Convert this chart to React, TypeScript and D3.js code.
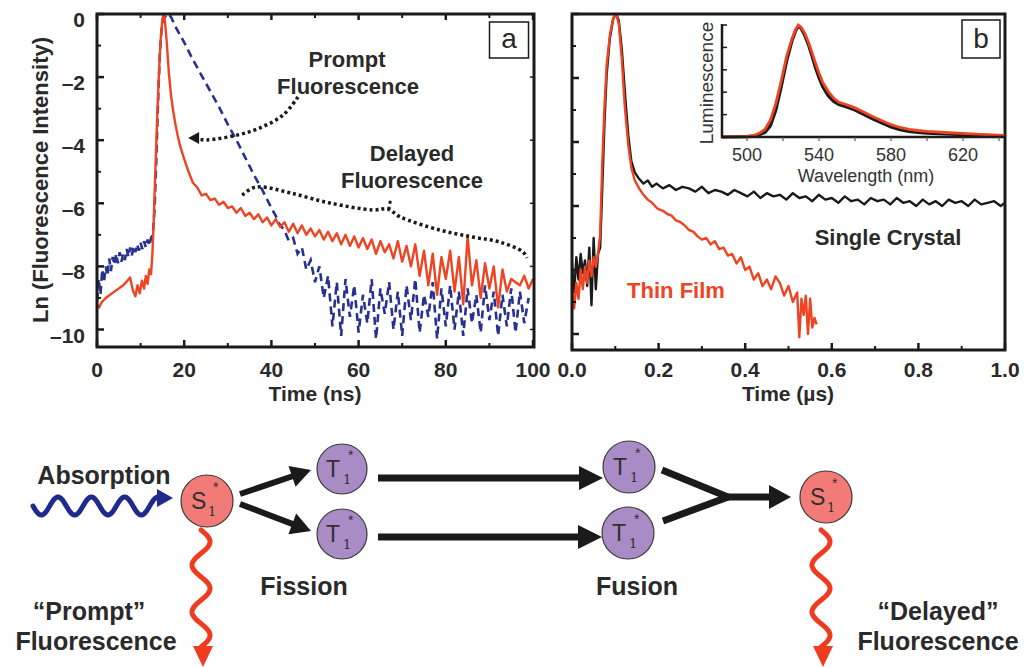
import React from "react";
import * as d3 from "d3";

const FONT = "'Liberation Sans', Arial, Helvetica, sans-serif";
const INK = "#1a1a1a";
const TXT = "#2a2a2a";
const RED = "#ee4422";
const BLUE = "#283190";

// ---------- Panel a : fluorescence decay (ns) ----------
const thinFilmNs: [number, number][] = [
  [0, -9.2], [0.5, -9.3], [1, -9.15], [2, -9.0], [3, -8.9], [4, -8.8], [5, -8.7], [6, -8.6], [7, -8.45],
  [7.6, -8.35], [8.2, -8.75], [8.8, -8.95], [9.3, -8.6], [9.8, -8.85], [10.3, -8.45], [10.8, -8.7],
  [11.2, -8.3], [11.6, -8.55], [12.0, -8.1], [12.4, -8.25], [12.7, -7.6], [13.0, -6.6], [13.4, -4.9],
  [13.8, -3.3], [14.2, -1.9], [14.6, -0.8], [15.0, -0.15], [15.3, 0], [15.6, -0.25], [16.0, -0.9],
  [16.5, -1.9], [17, -2.6], [17.5, -3.1], [18, -3.5], [18.5, -3.85], [19, -4.15], [20, -4.6], [21, -5.0],
  [22, -5.35], [23, -5.5], [24, -5.75], [25, -5.7], [26, -5.9], [27, -5.85], [28, -6.05], [29, -5.95],
  [30, -6.15], [31, -6.1], [32, -6.3], [33, -6.15], [34, -6.4], [35, -6.3], [36, -6.5], [37, -6.35],
  [38, -6.6], [39, -6.45], [40, -6.7], [41, -6.5], [42, -6.75], [43, -6.6], [44, -6.9], [45, -6.65],
  [46, -6.95], [47, -6.7], [48, -7.0], [49, -6.8], [50, -7.05], [51, -6.85], [52, -7.15], [53, -6.9],
  [54, -7.2], [55, -6.95], [56, -7.3], [57, -7.0], [58, -7.35], [59, -7.05], [60, -7.4], [61, -7.1],
  [62, -7.45], [63, -7.15], [64, -7.6], [65, -7.2], [66, -7.55], [67, -7.3], [68, -7.75], [69, -7.2],
  [70, -7.85], [71, -7.35], [72, -8.0], [73, -7.3], [74, -8.3], [75, -7.5], [76, -8.6], [77, -7.6],
  [78, -8.9], [79, -7.7], [80, -8.4], [81, -7.5], [82, -8.8], [83, -7.7], [84, -9.2], [85, -7.05],
  [86, -8.6], [87, -7.8], [88, -9.0], [89, -7.9], [90, -8.7], [91, -8.0], [92, -9.3], [93, -8.1],
  [94, -8.8], [95, -8.4], [96, -8.5], [97, -8.6], [98, -8.3], [99, -8.7], [100, -8.4],
];

const promptNs: [number, number][] = [
  [0, -9.1], [0.4, -8.4], [0.8, -8.9], [1.2, -8.1], [1.6, -8.5], [2, -8.0], [2.4, -8.3], [2.8, -7.75],
  [3.2, -8.15], [3.6, -7.7], [4, -7.95], [4.4, -7.6], [4.8, -7.9], [5.2, -7.55], [5.6, -7.85], [6, -7.6],
  [6.4, -7.8], [6.8, -7.45], [7.2, -7.7], [7.6, -7.4], [8, -7.65], [8.4, -7.35], [8.8, -7.55], [9.2, -7.3],
  [9.6, -7.5], [10, -7.25], [10.4, -7.45], [10.8, -7.2], [11.2, -7.4], [11.6, -7.15], [12, -7.35],
  [12.4, -7.1], [12.8, -7.0], [13.2, -6.2], [13.6, -4.6], [14, -2.8], [14.4, -1.3], [14.8, -0.5],
  [15.3, -0.15], [16, -0.02], [16.5, 0], [17, -0.1], [18, -0.4], [20, -0.9], [22, -1.45], [24, -1.95],
  [26, -2.45], [28, -2.95], [30, -3.5], [32, -4.0], [34, -4.55], [36, -5.1], [38, -5.6], [40, -6.15],
  [41, -6.4], [42, -6.7], [43, -6.85], [44, -7.2], [45, -7.1], [46, -7.6], [47, -7.4], [48, -8.1],
  [49, -7.8], [50, -8.5], [51, -8.0], [52, -9.0], [53, -8.3], [54, -9.9], [55, -8.5], [56, -10.2],
  [57, -8.4], [58, -9.6], [59, -8.6], [60, -10.1], [61, -8.9], [62, -9.8], [63, -8.4], [64, -10.3],
  [65, -8.7], [66, -9.5], [67, -8.5], [68, -10.0], [69, -8.8], [70, -10.2], [71, -8.6], [72, -9.7],
  [73, -8.4], [74, -10.1], [75, -8.9], [76, -9.6], [77, -8.5], [78, -10.3], [79, -8.7], [80, -9.9],
  [81, -8.6], [82, -10.0], [83, -8.8], [84, -10.2], [85, -8.7], [86, -9.8], [87, -8.9], [88, -10.1],
  [89, -8.6], [90, -9.7], [91, -8.8], [92, -10.2], [93, -8.9], [94, -9.9], [95, -8.7], [96, -10.1],
  [97, -8.8], [98, -9.8], [99, -9.0],
];

// annotation arrows (data coords of panel a)
const promptArrow: [number, number][] = [
  [46.1, -2.63], [42.7, -3.2], [37.4, -3.61], [32.1, -3.84], [25.2, -3.99], [23.0, -3.97],
];
const promptArrowTip: [number, number] = [20.9, -3.93];
const delayedArrow: [number, number][] = [
  [33.3, -5.74], [35.6, -5.52], [37.8, -5.48], [44.3, -5.67], [53.4, -5.99], [63.3, -6.21], [66.7, -6.18],
  [69.5, -6.43], [78.7, -6.85], [86.2, -7.07], [92.4, -7.23], [97.7, -7.54], [98.6, -7.73],
];
const delayedKink: [number, number][] = [[66.9, -6.2], [67.3, -5.9]];

// ---------- Panel b : decay (µs) ----------
const singleCrystalUs: [number, number][] = [
  [0, -7.8], [0.005, -8.7], [0.01, -7.6], [0.015, -8.3], [0.02, -7.5], [0.025, -8.1], [0.03, -7.7],
  [0.035, -8.5], [0.04, -7.3], [0.045, -9.1], [0.05, -7.0], [0.055, -8.6], [0.06, -7.5], [0.065, -7.3],
  [0.07, -5.4], [0.075, -3.4], [0.08, -1.9], [0.087, -0.8], [0.095, -0.15], [0.102, 0], [0.108, -0.2],
  [0.115, -1.1], [0.123, -2.6], [0.13, -3.8], [0.137, -4.6], [0.145, -4.95], [0.155, -5.15], [0.165, -5.3],
  [0.175, -5.2], [0.185, -5.4], [0.195, -5.3], [0.21, -5.45], [0.225, -5.35], [0.24, -5.5], [0.255, -5.4],
  [0.27, -5.45], [0.285, -5.55], [0.3, -5.4], [0.315, -5.6], [0.33, -5.5], [0.345, -5.55], [0.36, -5.65],
  [0.375, -5.5], [0.39, -5.6], [0.405, -5.7], [0.42, -5.55], [0.435, -5.75], [0.45, -5.6], [0.465, -5.7],
  [0.48, -5.65], [0.495, -5.8], [0.51, -5.6], [0.525, -5.75], [0.54, -5.7], [0.555, -5.85], [0.57, -5.65],
  [0.585, -5.8], [0.6, -5.75], [0.615, -5.9], [0.63, -5.7], [0.645, -5.85], [0.66, -5.8], [0.675, -5.95],
  [0.69, -5.75], [0.705, -5.85], [0.72, -5.8], [0.735, -5.95], [0.75, -5.75], [0.765, -5.9], [0.78, -5.85],
  [0.795, -6.0], [0.81, -5.8], [0.825, -5.95], [0.84, -5.85], [0.855, -6.0], [0.87, -5.8], [0.885, -5.9],
  [0.9, -5.85], [0.915, -6.0], [0.93, -5.8], [0.945, -5.95], [0.96, -5.9], [0.975, -5.85], [0.99, -6.0],
  [1.0, -5.9],
];

const thinFilmUs: [number, number][] = [
  [0, -8.6], [0.005, -9.2], [0.01, -8.4], [0.015, -8.9], [0.02, -8.0], [0.025, -8.6], [0.03, -7.9],
  [0.035, -8.4], [0.04, -7.7], [0.045, -8.2], [0.05, -7.6], [0.055, -7.9], [0.06, -7.5], [0.065, -6.9],
  [0.07, -4.6], [0.075, -2.9], [0.08, -1.6], [0.088, -0.6], [0.096, -0.1], [0.102, 0], [0.108, -0.3],
  [0.115, -1.4], [0.122, -2.9], [0.13, -4.1], [0.137, -4.8], [0.145, -5.2], [0.155, -5.45], [0.165, -5.65],
  [0.175, -5.8], [0.185, -5.9], [0.195, -6.05], [0.2, -6.1], [0.21, -6.15], [0.22, -6.25], [0.23, -6.3],
  [0.24, -6.45], [0.25, -6.5], [0.26, -6.6], [0.27, -6.75], [0.28, -6.8], [0.29, -6.95], [0.3, -7.05],
  [0.31, -7.0], [0.32, -7.2], [0.33, -7.1], [0.34, -7.35], [0.35, -7.3], [0.36, -7.55], [0.37, -7.5],
  [0.38, -7.8], [0.39, -7.6], [0.4, -8.0], [0.41, -7.9], [0.42, -8.3], [0.43, -8.1], [0.44, -8.5],
  [0.45, -8.3], [0.46, -8.6], [0.47, -8.2], [0.48, -8.4], [0.49, -8.8], [0.5, -8.5], [0.51, -9.0],
  [0.52, -8.7], [0.525, -10.1], [0.53, -8.9], [0.535, -9.4], [0.54, -8.8], [0.545, -10.0], [0.55, -8.9],
  [0.555, -9.8], [0.56, -9.5], [0.565, -9.7],
];

// ---------- Inset : luminescence spectra ----------
const spectrumFilm: [number, number][] = [
  [486, 0], [495, 0.002], [500, 0.006], [504, 0.015], [507, 0.035], [510, 0.07], [513, 0.15], [516, 0.3],
  [519, 0.5], [522, 0.72], [525, 0.88], [527, 0.96], [528.5, 1.0], [530, 0.98], [532, 0.93], [534, 0.85],
  [536, 0.76], [538, 0.66], [540, 0.57], [542, 0.49], [545, 0.41], [548, 0.35], [551, 0.31], [555, 0.29],
  [560, 0.26], [565, 0.22], [570, 0.18], [575, 0.145], [580, 0.11], [585, 0.085], [590, 0.068],
  [595, 0.058], [600, 0.05], [610, 0.04], [620, 0.032], [630, 0.024], [643, 0.015],
];
const spectrumCrystal: [number, number][] = [
  [486, 0], [500, 0.003], [505, 0.01], [510, 0.04], [513, 0.1], [516, 0.24], [519, 0.45], [522, 0.68],
  [525, 0.86], [527, 0.95], [528.5, 0.99], [530, 0.97], [532, 0.91], [534, 0.83], [536, 0.73], [538, 0.62],
  [540, 0.53], [542, 0.45], [545, 0.37], [548, 0.32], [551, 0.29], [555, 0.27], [560, 0.24], [565, 0.2],
  [570, 0.16], [575, 0.125], [580, 0.09], [585, 0.065], [590, 0.05], [595, 0.04], [600, 0.035],
  [610, 0.028], [620, 0.02], [630, 0.015], [643, 0.01],
];

const yTicksMajor = [0, -2, -4, -6, -8, -10];
const yTicksMinor = [-1, -3, -5, -7, -9];
const xTicksA = [0, 20, 40, 60, 80, 100];
const xTicksAMinor = [10, 30, 50, 70, 90];
const xTicksB = [0, 0.2, 0.4, 0.6, 0.8, 1.0];
const xTicksBMinor = [0.1, 0.3, 0.5, 0.7, 0.9];
const insetXLabels = [500, 540, 580, 620];
const insetXTicks = [500, 520, 540, 560, 580, 600, 620, 640];
const insetYTicks = [0, 0.2, 0.4, 0.6, 0.8, 1.0];

const fmtY = (v: number) => (v === 0 ? "0" : "\u2013" + Math.abs(v));

// geometry helpers for the scheme
function wavePath(x0: number, y0: number, x1: number, y1: number, amp: number, periods: number) {
  const dx = x1 - x0, dy = y1 - y0, L = Math.hypot(dx, dy);
  const ux = dx / L, uy = dy / L, px = -uy, py = ux;
  const pts: [number, number][] = d3.range(0, 201).map((i) => {
    const t = i / 200;
    const o = amp * Math.sin(2 * Math.PI * periods * t);
    return [x0 + dx * t + px * o, y0 + dy * t + py * o];
  });
  return d3.line()(pts) as string;
}

function Arrow({ x1, y1, x2, y2, w = 6, hl = 20, hw = 22 }: any) {
  const dx = x2 - x1, dy = y2 - y1, L = Math.hypot(dx, dy);
  const ux = dx / L, uy = dy / L, px = -uy, py = ux;
  const bx = x2 - ux * hl, by = y2 - uy * hl;
  return (
    <g>
      <line x1={x1} y1={y1} x2={bx + ux * 2} y2={by + uy * 2} stroke={INK} strokeWidth={w} />
      <polygon
        points={`${x2},${y2} ${bx + (px * hw) / 2},${by + (py * hw) / 2} ${bx - (px * hw) / 2},${by - (py * hw) / 2}`}
        fill={INK}
      />
    </g>
  );
}

function State({ cx, cy, r, letter, fill }: any) {
  return (
    <g>
      <circle cx={cx} cy={cy} r={r} fill={fill} stroke="#3a3a3a" strokeWidth={1.2} />
      <text x={cx - 16} y={cy + 8} fontSize={23} fill="#303030" fontFamily={FONT}>{letter}</text>
      <text x={cx + 1} y={cy + 15} fontSize={13} fill="#303030" fontFamily="'DejaVu Serif', serif">1</text>
      <text x={cx + 6} y={cy - 9} fontSize={14} fill="#303030" fontFamily={FONT}>*</text>
    </g>
  );
}

export default function App() {
  // panel a scales
  const xA = d3.scaleLinear().domain([0, 100]).range([97, 533]);
  const yA = d3.scaleLinear().domain([0, -10]).range([14, 329.5]);
  const lineA = d3.line<[number, number]>().x((d) => xA(d[0])).y((d) => yA(d[1]));
  const curveA = d3.line<[number, number]>().x((d) => xA(d[0])).y((d) => yA(d[1])).curve(d3.curveCatmullRom);

  // panel b scales
  const xB = d3.scaleLinear().domain([0, 1]).range([572, 1005]);
  const yB = d3.scaleLinear().domain([0, -10]).range([14, 334]);
  const lineB = d3.line<[number, number]>().x((d) => xB(d[0])).y((d) => yB(d[1]));

  // inset scales
  const xI = d3.scaleLinear().domain([486.1, 643.3]).range([722, 1005]);
  const yI = d3.scaleLinear().domain([0, 1]).range([137, 25]);
  const lineI = d3.line<[number, number]>().x((d) => xI(d[0])).y((d) => yI(d[1]));

  const tipX = xA(promptArrowTip[0]), tipY = yA(promptArrowTip[1]);

  return (
    <svg width={1024} height={667} style={{ position: "absolute", left: 0, top: 0, background: "#fff" }}>
      <defs>
        <clipPath id="clipA"><rect x={98} y={15} width={435} height={331} /></clipPath>
        <clipPath id="clipB"><rect x={573} y={15} width={431} height={334} /></clipPath>
      </defs>
      <rect x={0} y={0} width={1024} height={667} fill="#fff" />

      {/* ================= PANEL A ================= */}
      <g clipPath="url(#clipA)">
        <path d={lineA(promptNs) as string} fill="none" stroke={BLUE} strokeWidth={2.6} strokeDasharray="8 5" />
        <path d={lineA(thinFilmNs) as string} fill="none" stroke={RED} strokeWidth={2.4} strokeLinejoin="round" />
      </g>
      <rect x={97} y={14} width={437} height={333} fill="none" stroke={INK} strokeWidth={3} />
      {xTicksA.map((v) => (
        <g key={"xa" + v}>
          <line x1={xA(v)} x2={xA(v)} y1={347} y2={340} stroke={INK} strokeWidth={2.5} />
          <line x1={xA(v)} x2={xA(v)} y1={14} y2={20} stroke={INK} strokeWidth={2.5} />
          <text x={xA(v)} y={377} textAnchor="middle" fontSize={21} fontWeight="bold" fill={TXT} fontFamily={FONT}>{v}</text>
        </g>
      ))}
      {xTicksAMinor.map((v) => (
        <g key={"xam" + v}>
          <line x1={xA(v)} x2={xA(v)} y1={347} y2={343} stroke={INK} strokeWidth={2} />
          <line x1={xA(v)} x2={xA(v)} y1={14} y2={18} stroke={INK} strokeWidth={2} />
        </g>
      ))}
      {yTicksMajor.map((v) => (
        <g key={"ya" + v}>
          <line x1={97} x2={104} y1={yA(v)} y2={yA(v)} stroke={INK} strokeWidth={2.5} />
          <line x1={534} x2={530} y1={yA(v)} y2={yA(v)} stroke={INK} strokeWidth={1.5} />
          <text x={85} y={yA(v) + 13} textAnchor="end" fontSize={21} fontWeight="bold" fill={TXT} fontFamily={FONT}>{fmtY(v)}</text>
        </g>
      ))}
      {yTicksMinor.map((v) => (
        <line key={"yam" + v} x1={97} x2={101} y1={yA(v)} y2={yA(v)} stroke={INK} strokeWidth={2} />
      ))}
      <text x={315} y={401} textAnchor="middle" fontSize={21} fontWeight="bold" fill={TXT} fontFamily={FONT}>Time (ns)</text>
      <text transform="translate(48,180) rotate(-90)" textAnchor="middle" fontSize={22} fontWeight="bold" fill={TXT} fontFamily={FONT}>
        Ln (Fluorescence Intensity)
      </text>
      <rect x={489.5} y={22} width={39} height={36} fill="#fff" stroke={INK} strokeWidth={1.5} />
      <text x={509} y={48} textAnchor="middle" fontSize={28} fill={TXT} fontFamily={FONT}>a</text>

      {/* annotations */}
      <text x={347} y={67} textAnchor="middle" fontSize={22} fontWeight="bold" fill={TXT} fontFamily={FONT}>Prompt</text>
      <text x={348} y={94} textAnchor="middle" fontSize={22} fontWeight="bold" fill={TXT} fontFamily={FONT}>Fluorescence</text>
      <text x={412} y={161} textAnchor="middle" fontSize={22} fontWeight="bold" fill={TXT} fontFamily={FONT}>Delayed</text>
      <text x={412} y={188} textAnchor="middle" fontSize={22} fontWeight="bold" fill={TXT} fontFamily={FONT}>Fluorescence</text>
      <path d={curveA(promptArrow) as string} fill="none" stroke={INK} strokeWidth={3.5} strokeDasharray="3 3" />
      <polygon points={`${tipX},${tipY} ${tipX + 11},${tipY - 6} ${tipX + 11},${tipY + 6}`} fill={INK} />
      <path d={curveA(delayedArrow) as string} fill="none" stroke={INK} strokeWidth={3.5} strokeDasharray="3 3" />
      <path d={lineA(delayedKink) as string} fill="none" stroke={INK} strokeWidth={3} strokeDasharray="3 3" />

      {/* ================= PANEL B ================= */}
      <g clipPath="url(#clipB)">
        <path d={lineB(singleCrystalUs) as string} fill="none" stroke={INK} strokeWidth={2.4} strokeLinejoin="round" />
        <path d={lineB(thinFilmUs) as string} fill="none" stroke={RED} strokeWidth={2.4} strokeLinejoin="round" />
      </g>
      <rect x={572} y={14} width={433} height={336} fill="none" stroke={INK} strokeWidth={3} />
      {xTicksB.map((v) => (
        <g key={"xb" + v}>
          <line x1={xB(v)} x2={xB(v)} y1={350} y2={343} stroke={INK} strokeWidth={2.5} />
          <text x={xB(v)} y={377} textAnchor="middle" fontSize={21} fontWeight="bold" fill={TXT} fontFamily={FONT}>
            {d3.format(".1f")(v)}
          </text>
        </g>
      ))}
      {xTicksBMinor.map((v) => (
        <line key={"xbm" + v} x1={xB(v)} x2={xB(v)} y1={350} y2={346} stroke={INK} strokeWidth={2} />
      ))}
      {yTicksMajor.map((v) => (
        <line key={"yb" + v} x1={572} x2={579} y1={yB(v)} y2={yB(v)} stroke={INK} strokeWidth={2.5} />
      ))}
      {yTicksMinor.map((v) => (
        <line key={"ybm" + v} x1={572} x2={576} y1={yB(v)} y2={yB(v)} stroke={INK} strokeWidth={2} />
      ))}
      <text x={788} y={401} textAnchor="middle" fontSize={21} fontWeight="bold" fill={TXT} fontFamily={FONT}>Time (µs)</text>
      <text x={888} y={245} textAnchor="middle" fontSize={22} fontWeight="bold" fill={TXT} fontFamily={FONT}>Single Crystal</text>
      <text x={676} y={298} textAnchor="middle" fontSize={22} fontWeight="bold" fill={RED} fontFamily={FONT}>Thin Film</text>
      <rect x={962} y={20} width={38} height={38} fill="#fff" stroke={INK} strokeWidth={1.5} />
      <text x={981} y={48} textAnchor="middle" fontSize={28} fill={TXT} fontFamily={FONT}>b</text>

      {/* inset */}
      <path d={lineI(spectrumCrystal) as string} fill="none" stroke={INK} strokeWidth={3.2} />
      <path d={lineI(spectrumFilm) as string} fill="none" stroke={RED} strokeWidth={2.8} />
      <line x1={722} x2={722} y1={24} y2={138} stroke={INK} strokeWidth={2.5} />
      <line x1={721} x2={1005} y1={137} y2={137} stroke={INK} strokeWidth={2.5} />
      {insetYTicks.map((v) => (
        <line key={"iy" + v} x1={722} x2={727} y1={yI(v)} y2={yI(v)} stroke={INK} strokeWidth={1.5} />
      ))}
      {insetXTicks.map((v) => (
        <line key={"ix" + v} x1={xI(v)} x2={xI(v)} y1={137} y2={141} stroke="#555" strokeWidth={1.2} />
      ))}
      {insetXLabels.map((v) => (
        <text key={"ixl" + v} x={xI(v)} y={161} textAnchor="middle" fontSize={18} fill="#333" fontFamily={FONT}>{v}</text>
      ))}
      <text x={866} y={182} textAnchor="middle" fontSize={18} fill="#333" fontFamily={FONT}>Wavelength (nm)</text>
      <text transform="translate(713,83) rotate(-90)" textAnchor="middle" fontSize={19} fill="#333" fontFamily={FONT}>Luminescence</text>

      {/* ================= SCHEME ================= */}
      <text x={104} y={484} textAnchor="middle" fontSize={25} fontWeight="bold" fill={TXT} fontFamily={FONT}>Absorption</text>
      <path d={wavePath(33, 506, 158, 506, 9, 3.75)} fill="none" stroke="#1f2a8c" strokeWidth={5} strokeLinecap="round" />
      <polygon points="173,498 157,489 157,507" fill="#1f2a8c" />

      <path d={wavePath(201, 530, 201, 647, -9, 2.5)} fill="none" stroke="#ef3b1f" strokeWidth={5} strokeLinecap="round" />
      <polygon points="203,667 193,646 213,646" fill="#ef3b1f" />
      <path d={wavePath(821, 530, 821, 647, -9, 2.5)} fill="none" stroke="#ef3b1f" strokeWidth={5} strokeLinecap="round" />
      <polygon points="823,667 813,646 833,646" fill="#ef3b1f" />

      <Arrow x1={240} y1={494} x2={311} y2={470} />
      <Arrow x1={240} y1={504} x2={311} y2={531} />
      <Arrow x1={378} y1={478} x2={603} y2={478} w={7} hl={24} hw={24} />
      <Arrow x1={378} y1={537} x2={602} y2={537} w={7} hl={24} hw={24} />
      <polyline points="662,470 728,497 663,521" fill="none" stroke={INK} strokeWidth={7} strokeLinejoin="miter" />
      <Arrow x1={724} y1={497} x2={791} y2={497} w={7} hl={22} hw={24} />

      <State cx={207} cy={501} r={26} letter="S" fill="#f27b77" />
      <State cx={342} cy={469} r={25} letter="T" fill="#a98bc6" />
      <State cx={342} cy={534} r={25} letter="T" fill="#a98bc6" />
      <State cx={629} cy={467} r={26} letter="T" fill="#a98bc6" />
      <State cx={628} cy={533} r={26} letter="T" fill="#a98bc6" />
      <State cx={826} cy={497} r={26} letter="S" fill="#f27b77" />

      <text x={304} y={595} textAnchor="middle" fontSize={25} fontWeight="bold" fill={TXT} fontFamily={FONT}>Fission</text>
      <text x={637} y={595} textAnchor="middle" fontSize={25} fontWeight="bold" fill={TXT} fontFamily={FONT}>Fusion</text>
      <text x={89} y={620} textAnchor="middle" fontSize={25} fontWeight="bold" fill={TXT} fontFamily={FONT}>“Prompt”</text>
      <text x={96} y={650} textAnchor="middle" fontSize={25} fontWeight="bold" fill={TXT} fontFamily={FONT}>Fluorescence</text>
      <text x={938} y={620} textAnchor="middle" fontSize={25} fontWeight="bold" fill={TXT} fontFamily={FONT}>“Delayed”</text>
      <text x={938} y={650} textAnchor="middle" fontSize={25} fontWeight="bold" fill={TXT} fontFamily={FONT}>Fluorescence</text>
    </svg>
  );
}
